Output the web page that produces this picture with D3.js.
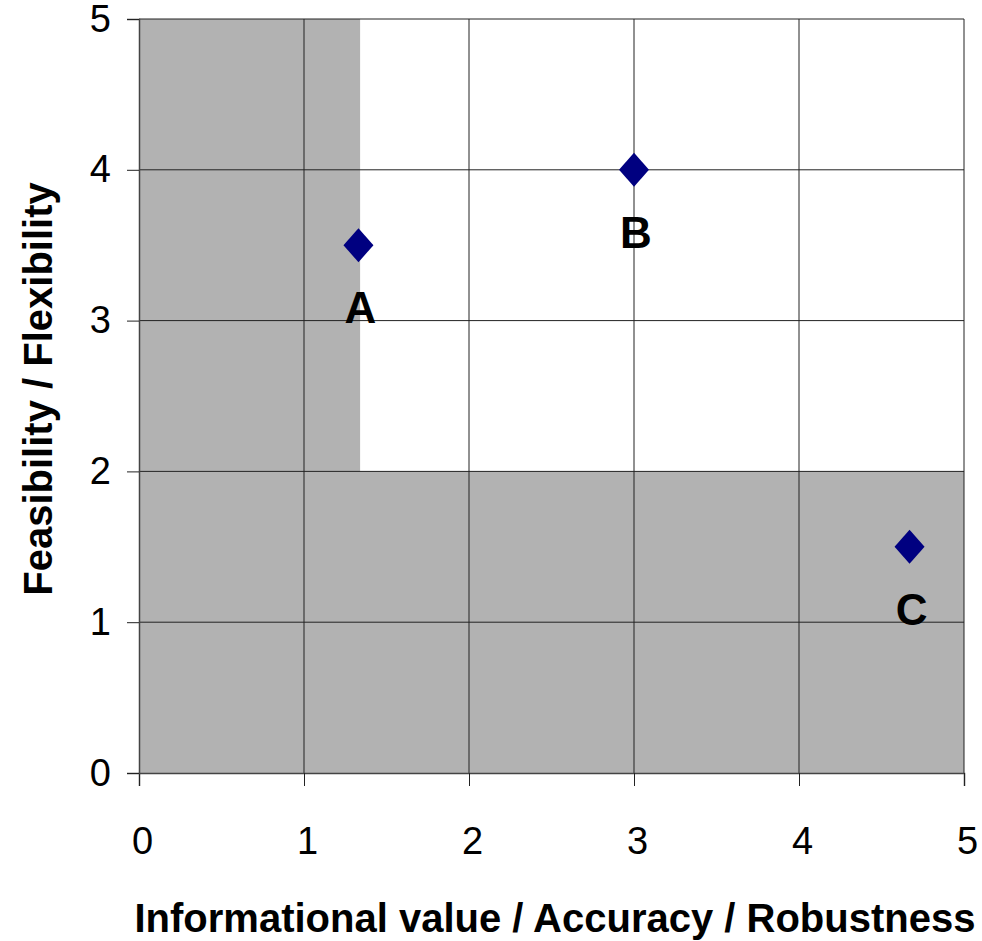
<!DOCTYPE html>
<html>
<head>
<meta charset="utf-8">
<script src="https://cdn.jsdelivr.net/npm/d3@7"></script>
<style>
  body { margin: 0; background: #fff; }
  text { font-family: "Liberation Sans", Arial, sans-serif; }
</style>
</head>
<body>
<script>
// Scenario points
const names = ["A", "B", "C"];
const xVals = [1.33, 3, 4.67];
const yVals = [3.5, 4, 1.5];

// Shaded (rejected) zones
const zoneX0 = [0, 0];
const zoneX1 = [1.34, 5];
const zoneY0 = [2, 0];
const zoneY1 = [5, 2];

const ticks = [0, 1, 2, 3, 4, 5];

const width = 982, height = 941;
const margin = { top: 19, right: 18, bottom: 168, left: 139 };

const svg = d3.select("body")
    .append("svg")
    .attr("width", width)
    .attr("height", height);

const x = d3.scaleLinear()
    .domain([0, 5])
    .range([margin.left, width - margin.right]);

const y = d3.scaleLinear()
    .domain([0, 5])
    .range([height - margin.bottom, margin.top]);

// Grey zones
svg.selectAll("rect.zone")
    .data(zoneX0.map((d, i) => ({ x0: d, x1: zoneX1[i], y0: zoneY0[i], y1: zoneY1[i] })))
    .enter()
    .append("rect")
    .attr("class", "zone")
    .attr("x", d => x(d.x0))
    .attr("y", d => y(d.y1))
    .attr("width", d => x(d.x1) - x(d.x0))
    .attr("height", d => y(d.y0) - y(d.y1))
    .attr("fill", "#b2b2b2");

// Gridlines
svg.append("g")
    .selectAll("line")
    .data(ticks.slice(1))
    .enter()
    .append("line")
    .attr("x1", d => x(d)).attr("x2", d => x(d))
    .attr("y1", y(0)).attr("y2", y(5))
    .attr("stroke", "#222").attr("stroke-width", 1);

svg.append("g")
    .selectAll("line")
    .data(ticks.slice(1))
    .enter()
    .append("line")
    .attr("x1", x(0)).attr("x2", x(5))
    .attr("y1", d => y(d)).attr("y2", d => y(d))
    .attr("stroke", "#222").attr("stroke-width", 1);

// Axes
const xAxis = svg.append("g")
    .attr("transform", `translate(0,${y(0)})`)
    .call(d3.axisBottom(x).tickValues(ticks).tickSize(13).tickPadding(41).tickFormat(d3.format("d")));

const yAxis = svg.append("g")
    .attr("transform", `translate(${x(0)},0)`)
    .call(d3.axisLeft(y).tickValues(ticks).tickSize(12).tickPadding(16).tickFormat(d3.format("d")));

[xAxis, yAxis].forEach(g => {
    g.select(".domain").attr("stroke", "#444").attr("stroke-width", 1.5);
    g.selectAll(".tick line").attr("stroke", "#222");
    g.selectAll(".tick text")
        .attr("fill", "#000")
        .style("font-size", "38px")
        .style("font-family", "Liberation Sans, Arial, sans-serif");
});
xAxis.selectAll(".tick text").attr("dx", "3px");

// Points
const pts = names.map((n, i) => ({ name: n, x: xVals[i], y: yVals[i] }));

svg.selectAll("path.pt")
    .data(pts)
    .enter()
    .append("path")
    .attr("class", "pt")
    .attr("d", "M0,-17L15,0L0,17L-15,0Z")
    .attr("transform", d => `translate(${x(d.x)},${y(d.y)})`)
    .attr("fill", "#000080");

svg.selectAll("text.lbl")
    .data(pts)
    .enter()
    .append("text")
    .attr("class", "lbl")
    .attr("x", d => x(d.x) + 2)
    .attr("y", d => y(d.y) + 78)
    .attr("text-anchor", "middle")
    .attr("font-weight", "bold")
    .attr("font-size", "44px")
    .text(d => d.name);

// Axis titles
svg.append("text")
    .attr("x", 555)
    .attr("y", 932)
    .attr("text-anchor", "middle")
    .attr("font-weight", "bold")
    .attr("font-size", "40px")
    .text("Informational value / Accuracy / Robustness");

svg.append("text")
    .attr("transform", `translate(52,389) rotate(-90)`)
    .attr("text-anchor", "middle")
    .attr("font-weight", "bold")
    .attr("font-size", "40px")
    .text("Feasibility / Flexibility");
</script>
</body>
</html>
